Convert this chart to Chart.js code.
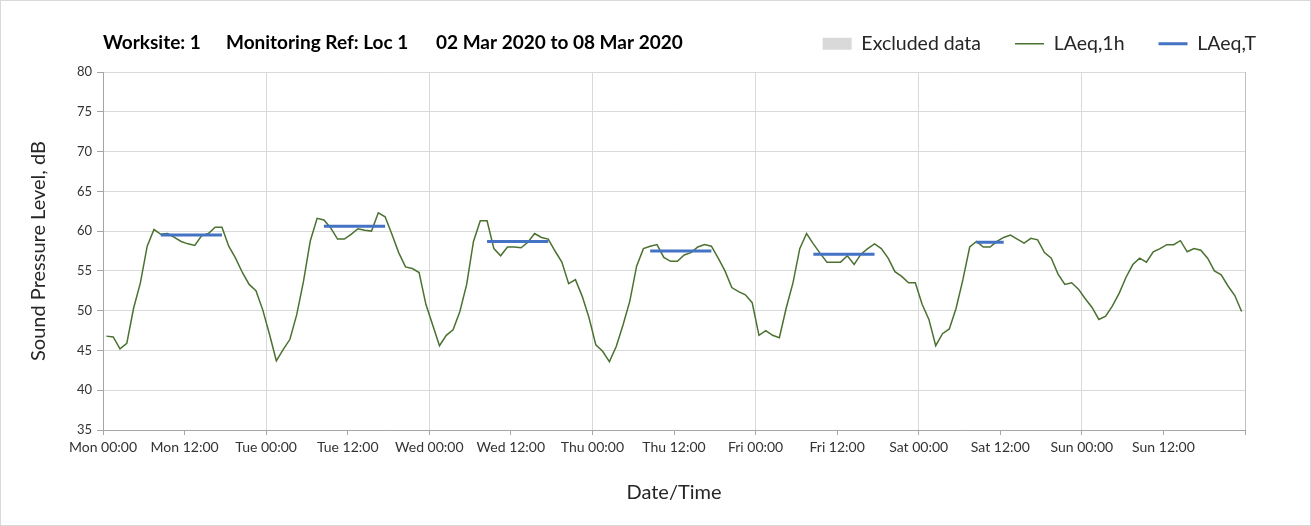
<!DOCTYPE html>
<html>
<head>
<meta charset="utf-8">
<script src="https://cdn.jsdelivr.net/npm/chart.js@4.4.1/dist/chart.umd.min.js"></script>
<style>
  html, body { margin: 0; padding: 0; background: #fff; }
</style>
</head>
<body>
<canvas id="noise_chart" width="1311" height="526"></canvas>
<script>
var days = ["Mon", "Tue", "Wed", "Thu", "Fri", "Sat", "Sun"];
var tickHours = ["00:00", "12:00"];

// LAeq,1h, one value per hour (plotted at hh:30)
var mon = [46.8, 46.7, 45.2, 45.9, 50.3, 53.5, 58.1, 60.2, 59.6, 59.7, 59.2, 58.7, 58.4, 58.2, 59.4, 59.7, 60.5, 60.5, 58.1, 56.6, 54.8, 53.3, 52.5, 50.1];
var tue = [47.0, 43.7, 45.1, 46.4, 49.5, 53.7, 58.8, 61.6, 61.4, 60.4, 59.0, 59.0, 59.6, 60.3, 60.1, 60.0, 62.3, 61.8, 59.6, 57.3, 55.5, 55.3, 54.8, 50.8];
var wed = [48.2, 45.6, 46.9, 47.6, 49.9, 53.3, 58.7, 61.3, 61.3, 57.8, 56.9, 58.0, 58.0, 57.9, 58.6, 59.7, 59.2, 59.0, 57.5, 56.1, 53.4, 53.9, 51.8, 49.1];
var thu = [45.7, 44.9, 43.6, 45.5, 48.2, 51.2, 55.6, 57.8, 58.1, 58.3, 56.7, 56.2, 56.2, 57.0, 57.3, 58.0, 58.3, 58.1, 56.6, 55.0, 52.9, 52.4, 52.0, 51.0];
var fri = [46.9, 47.5, 46.9, 46.6, 50.3, 53.5, 57.8, 59.7, 58.4, 57.2, 56.1, 56.1, 56.1, 56.9, 55.8, 57.1, 57.8, 58.4, 57.8, 56.6, 54.9, 54.3, 53.5, 53.5];
var sat = [50.8, 48.9, 45.6, 47.1, 47.7, 50.3, 53.9, 58.0, 58.7, 58.0, 58.0, 58.7, 59.2, 59.5, 59.0, 58.5, 59.1, 58.9, 57.3, 56.6, 54.6, 53.3, 53.5, 52.7];
var sun = [51.5, 50.4, 48.9, 49.3, 50.6, 52.2, 54.2, 55.8, 56.6, 56.1, 57.4, 57.8, 58.3, 58.3, 58.8, 57.4, 57.8, 57.6, 56.6, 55.0, 54.5, 53.1, 51.9, 49.9];

// LAeq,T per day and the hours it covers
var laeqT = [59.5, 60.6, 58.7, 57.5, 57.1, 58.6, null];
var periodFrom = [8, 8, 8, 8, 8, 8, null];
var periodTo = [18, 18, 18, 18, 18, 13, null];

var headerParts = ["Worksite: 1", "Monitoring Ref: Loc 1", "02 Mar 2020 to 08 Mar 2020"];

var hourly = mon.concat(tue, wed, thu, fri, sat, sun);
var hourlyPoints = hourly.map(function (v, i) {
    return { x: i + 0.5, y: v };
});

var periodPoints = [];
days.forEach(function (d, i) {
    if (laeqT[i] == null) return;
    periodPoints.push({ x: i * 24 + periodFrom[i] + 0.5, y: laeqT[i] });
    periodPoints.push({ x: i * 24 + periodTo[i] - 0.5, y: laeqT[i] });
    periodPoints.push({ x: i * 24 + periodTo[i], y: null });
});

var header = {
    id: 'header',
    beforeDraw: function (chart) {
        var c = chart.ctx;
        c.save();
        c.fillStyle = '#fff';
        c.fillRect(0, 0, chart.width, chart.height);
        c.strokeStyle = '#d9d9d9';
        c.lineWidth = 1;
        c.strokeRect(0.5, 0.5, chart.width - 1, chart.height - 1);
        c.restore();
    },
    afterDraw: function (chart) {
        var c = chart.ctx;
        var xs = [103, 226, 436];
        c.save();
        c.font = 'bold 19px Lato';
        c.fillStyle = '#000';
        c.textBaseline = 'middle';
        headerParts.forEach(function (t, i) { c.fillText(t, xs[i], 43); });
        c.restore();
    }
};

Chart.defaults.font.family = "Lato, 'Noto Sans', sans-serif";
Chart.defaults.color = '#333';

var ctx = document.getElementById("noise_chart");

var noiseChart = new Chart(ctx, {
    type: 'line',
    data: {
        datasets: [
            {
                label: "Excluded data",
                data: [],
                backgroundColor: "#d9d9d9",
                borderColor: "#d9d9d9",
                legendStyle: 'rect'
            },
            {
                label: "LAeq,1h",
                data: hourlyPoints,
                borderColor: "#4a7130",
                backgroundColor: "#4a7130",
                borderWidth: 1.5,
                pointRadius: 0,
                tension: 0,
                order: 2,
                legendStyle: 'line'
            },
            {
                label: "LAeq,T",
                data: periodPoints,
                borderColor: "#4472c4",
                backgroundColor: "#4472c4",
                borderWidth: 3,
                pointRadius: 0,
                spanGaps: false,
                order: 1,
                legendStyle: 'line'
            }
        ]
    },
    options: {
        responsive: false,
        animation: false,
        devicePixelRatio: 1,
        layout: { padding: { top: 0, right: 21, bottom: 0, left: 0 } },
        plugins: {
            tooltip: { enabled: false },
            // empty title used as a gap between legend and plot
            title: {
                display: true,
                text: '',
                weight: 500,
                font: { size: 10, lineHeight: 0 },
                padding: { top: 0, bottom: 8.5 }
            },
            legend: {
                position: 'top',
                align: 'end',
                labels: {
                    usePointStyle: true,
                    pointStyleWidth: 29,
                    boxHeight: 12,
                    padding: 34,
                    color: '#262626',
                    font: { size: 19.5 },
                    sort: function (a, b) { return a.datasetIndex - b.datasetIndex; },
                    generateLabels: function (chart) {
                        var items = Chart.defaults.plugins.legend.labels.generateLabels(chart);
                        items.forEach(function (it) {
                            var ds = chart.data.datasets[it.datasetIndex];
                            it.pointStyle = ds.legendStyle;
                            it.fillStyle = ds.backgroundColor;
                            it.strokeStyle = ds.borderColor;
                            it.lineWidth = ds.legendStyle === 'rect' ? 0 : ds.borderWidth;
                        });
                        return items;
                    }
                }
            }
        },
        scales: {
            x: {
                type: 'linear',
                min: 0,
                max: 168,
                offset: false,
                afterFit: function (s) { s.height = 96; s.paddingRight = 66; },
                ticks: {
                    stepSize: 12,
                    autoSkip: false,
                    maxRotation: 0,
                    padding: 4,
                    font: { size: 14 },
                    callback: function (v) {
                        if (v >= 168) return '';
                        return days[Math.floor(v / 24)] + ' ' + tickHours[(v % 24) / 12];
                    }
                },
                grid: {
                    color: function (c) {
                        if (!c.tick) return 'rgba(0,0,0,0)';
                        if (c.tick.value === 168) return '#bfbfbf';
                        return c.tick.value % 24 === 0 ? '#d9d9d9' : 'rgba(0,0,0,0)';
                    },
                    tickColor: '#a6a6a6',
                    tickLength: 5
                },
                border: { color: '#a6a6a6' },
                title: {
                    display: true,
                    text: 'Date/Time',
                    color: '#262626',
                    font: { size: 20 },
                    padding: { top: 0, bottom: 21 }
                }
            },
            y: {
                min: 35,
                max: 80,
                afterFit: function (s) { s.width = 103; },
                ticks: { stepSize: 5, padding: 5, font: { size: 13 } },
                grid: { color: '#d9d9d9', tickColor: '#a6a6a6', tickLength: 6 },
                border: { color: '#a6a6a6' },
                title: {
                    display: true,
                    text: 'Sound Pressure Level, dB',
                    color: '#262626',
                    font: { size: 20 },
                    padding: { top: 27, bottom: 0 }
                }
            }
        }
    },
    plugins: [header]
});
</script>
</body>
</html>
